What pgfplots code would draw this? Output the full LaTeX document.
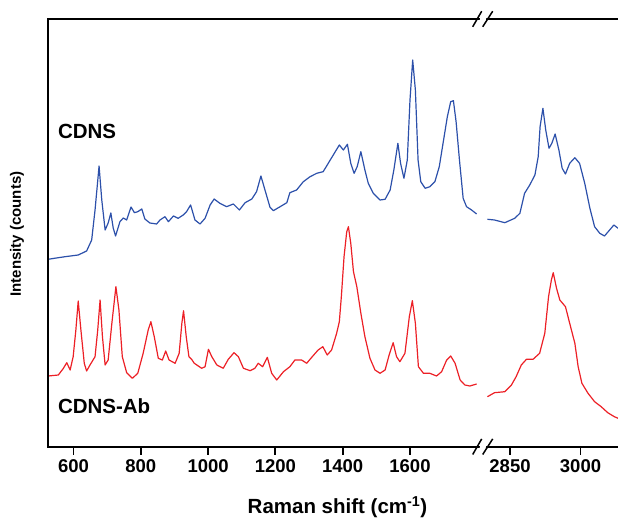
\documentclass[border=0pt]{standalone}
\usepackage{pgfplots}
\pgfplotsset{compat=1.18}
\usepackage{fontspec}
\setmainfont{Liberation Sans}
\definecolor{specblue}{RGB}{44,80,170}
\definecolor{specred}{RGB}{236,32,38}

% intensities in arbitrary units (no y ticks in the original)
\pgfplotstableread{
x I
525 187.4
545 188.5
575 190
614 191.7
639 195.7
654 206.7
664 236.7
676 280.7
684 246.7
694 216.7
703 223.7
711 233.7
718 218.7
725 210.7
738 225
748 228.7
758 226.7
771 239.7
781 234
791 235
803 237.7
812 227.7
827 223.7
847 222.7
857 226.7
872 230
882 225
897 230.7
911 228.4
926 231.7
936 235
948 241.7
961 226.7
976 222.7
991 228.4
1006 241.7
1018 247.7
1035 243.4
1055 240
1075 242.7
1093 236.7
1110 244
1130 247.7
1144 255
1157 270.7
1169 256.7
1184 239.4
1194 236
1214 240
1234 244
1243 254
1263 256.7
1283 265
1303 270
1323 273.4
1342 275
1357 283.4
1372 291.7
1390 301.7
1402 296.7
1414 302.4
1424 283.4
1434 273.4
1443 280
1454 295
1466 276.7
1476 263.4
1491 253.4
1511 246.7
1526 247.4
1541 256.7
1552 276.7
1564 303.4
1572 283.4
1582 268.4
1592 286.7
1600 346.7
1608 386.7
1616 356.7
1624 286.7
1632 265
1645 258.4
1659 260
1674 265
1687 280
1699 305
1711 330
1721 345
1729 346
1737 325
1747 286.7
1758 248.4
1768 240
1783 236.7
1798 232.7
}\blueleft

\pgfplotstableread{
x I
2802 227.4
2817 226.7
2839 224
2860 228.4
2871 233.4
2881 253.4
2892 261.7
2903 271.7
2910 290
2914 320
2920 338.4
2926 316.7
2933 298.4
2939 303.4
2946 312.7
2954 296.7
2961 278.4
2968 272.7
2977 283.4
2988 289
2998 283.4
3009 263.4
3020 238.4
3030 220
3041 213.4
3051 210.7
3062 216.7
3071 221.7
3080 218.4
}\blueright

\pgfplotstableread{
x I
525 70.7
555 71.7
570 78.4
580 84
590 76.7
599 90
607 116.7
614 145.7
622 116.7
632 83.4
639 75.7
649 81.7
664 90
672 116.7
679 146.7
686 110
694 81.7
703 86.7
714 123.4
726 160
735 136.7
745 90
758 74
775 68.4
791 73.4
807 93.4
822 116.7
830 125
840 110
852 88.4
864 86.7
874 95.7
884 86.7
902 83.4
914 93.4
922 123.4
927 136
935 110
943 90
951 87.4
959 83.4
981 78.4
991 80
1001 97.4
1011 90
1026 81.7
1045 78.4
1060 87.4
1077 94
1090 90
1105 78.4
1125 76
1139 78.4
1149 83.4
1162 80
1176 89.4
1189 73.4
1204 66.7
1224 75
1243 80
1258 86.7
1278 86.7
1293 83.4
1308 89.4
1327 96.7
1341 100
1354 91.7
1367 96.7
1382 113.4
1390 125
1396 150
1404 190
1412 215
1417 220
1424 203.4
1432 175
1442 160
1454 133.4
1466 110
1481 88.4
1496 76.7
1511 73.4
1526 76.7
1538 91.7
1550 104
1560 90
1570 85
1585 93.4
1598 130
1607 146
1616 123.4
1625 80
1640 73.4
1659 73.4
1679 70.7
1694 75
1709 86.7
1721 90.7
1734 83.4
1749 66.7
1763 61.7
1778 60.7
1798 62.7
}\redleft

\pgfplotstableread{
x I
2802 50
2817 54
2839 55
2853 61.7
2863 70
2874 81.7
2885 87.4
2899 87.4
2913 93.4
2924 113.4
2932 150
2938 166.7
2942 174
2949 158.4
2956 146.7
2968 140
2977 123.4
2988 103.4
2995 80
3003 63.4
3016 53.4
3030 45
3044 40
3058 34
3072 30
3080 28.4
}\redright

\pgfplotsset{
  brk/.style={
    scale only axis,
    height=427.7pt,
    ymin=0, ymax=427.7,
    ytick=\empty,
    xtick pos=left,
    tick align=outside,
    major tick length=8pt,
    axis line style={draw=none},
    tick style={line width=1.8pt, draw=black},
    tick label style={font=\fontsize{18.5}{20}\selectfont\bfseries},
    /pgf/number format/assume math mode=true,
    /pgf/number format/1000 sep={},
    xticklabel style={yshift=-1.5pt},
    every axis plot/.append style={line width=1.2pt, line join=round},
    clip=false,
  }
}

\begin{document}
\begin{tikzpicture}
\begin{axis}[
  brk,
  name=L,
  width=434pt,
  xmin=524.2, xmax=1814,
  xtick={600,800,1000,1200,1400,1600},
  ylabel={Intensity (counts)},
  every axis y label/.style={at={(axis description cs:-0.0714,0.497)},
    rotate=90, anchor=center, font=\fontsize{15}{17}\selectfont\bfseries},
  xlabel={Raman shift (cm\textsuperscript{-1})},
  every axis x label/.style={at={(axis description cs:0.667,-0.141)},
    anchor=center, font=\fontsize{20.5}{22}\selectfont\bfseries},
]
\addplot[specblue] table[x=x, y=I] {\blueleft};
\addplot[specred] table[x=x, y=I] {\redleft};
% spines: bottom, left, top
\draw[line width=2pt, line cap=rect] (rel axis cs:1,0) -- (rel axis cs:0,0)
  -- (rel axis cs:0,1) -- (rel axis cs:1,1);
\pgfplotsinvokeforeach{600,800,1000,1200,1400,1600}{
  \draw[line width=1.8pt] (axis cs:#1,0) -- ([yshift=-8pt]axis cs:#1,0);
}
\node[anchor=west, font=\fontsize{20.5}{22}\selectfont\bfseries, inner sep=0pt]
  at (axis description cs:0.0226,0.738) {CDNS};
\node[anchor=west, font=\fontsize{20.5}{22}\selectfont\bfseries, inner sep=0pt]
  at (axis description cs:0.0226,0.095) {CDNS-Ab};
\end{axis}

\begin{axis}[
  brk,
  at={(L.south east)}, anchor=south west,
  width=136pt,
  xmin=2790.4, xmax=3079.8,
  xtick={2850,3000},
]
\addplot[specblue] table[x=x, y=I] {\blueright};
\addplot[specred] table[x=x, y=I] {\redright};
% spines: bottom, top
\draw[line width=2pt] (rel axis cs:0,0) -- (rel axis cs:1.05,0);
\draw[line width=2pt] (rel axis cs:0,1) -- (rel axis cs:1.05,1);
\pgfplotsinvokeforeach{2850,3000}{
  \draw[line width=1.8pt] (axis cs:#1,0) -- ([yshift=-8pt]axis cs:#1,0);
}
\end{axis}

% break marks on top and bottom lines
\foreach \yy in {0pt,427.7pt} {
  \fill[white] ([xshift=-4pt,yshift=\yy-8pt]L.south east) -- ([xshift=2pt,yshift=\yy-8pt]L.south east)
    -- ([xshift=6pt,yshift=\yy+8pt]L.south east) -- ([xshift=-0pt,yshift=\yy+8pt]L.south east) -- cycle;
  \draw[line width=1.5pt] ([xshift=-9.3pt,yshift=\yy-7.8pt]L.south east) -- ([xshift=-0.3pt,yshift=\yy+7.8pt]L.south east);
  \draw[line width=1.5pt] ([xshift=0.7pt,yshift=\yy-7.8pt]L.south east) -- ([xshift=10.7pt,yshift=\yy+7.8pt]L.south east);
}
\pgfresetboundingbox
\path[use as bounding box] ([shift={(-48pt,-71.3pt)}]L.south west) rectangle ([shift={(570pt,446.7pt)}]L.south west);
\end{tikzpicture}
\end{document}
